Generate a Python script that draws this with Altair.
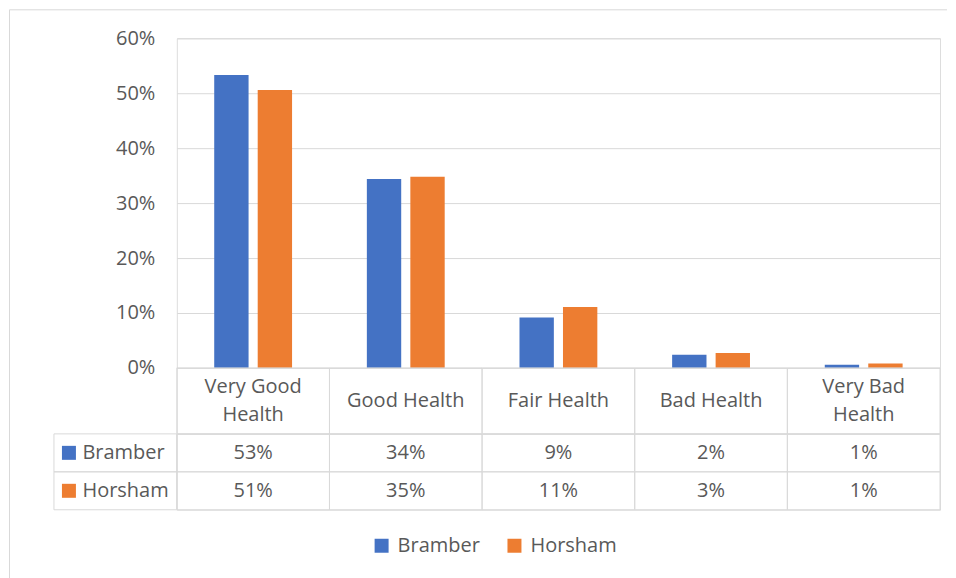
import altair as alt
import pandas as pd

categories = ["Very Good Health", "Good Health", "Fair Health", "Bad Health", "Very Bad Health"]
header_labels = ["Very Good\nHealth", "Good Health", "Fair Health", "Bad Health", "Very Bad\nHealth"]
series = ["Bramber", "Horsham"]
bramber = [0.533, 0.344, 0.092, 0.024, 0.006]
horsham = [0.506, 0.348, 0.111, 0.027, 0.008]
colors = ["#4472C4", "#ED7D31"]
y_ticks = [0, 0.1, 0.2, 0.3, 0.4, 0.5, 0.6]

rows = []
for i, c in enumerate(categories):
    rows.append({"category": c, "series": "Bramber", "value": bramber[i]})
    rows.append({"category": c, "series": "Horsham", "value": horsham[i]})
df = pd.DataFrame(rows)
hdr = pd.DataFrame({"category": categories, "label": header_labels})
one = pd.DataFrame({"a": [0]})

W = 764
FONT = "Open Sans"
TXT = "#595959"
GRID = "#d9d9d9"
FS = 20

color = alt.Color(
    "series:N",
    scale=alt.Scale(domain=series, range=colors),
    legend=alt.Legend(
        title=None, orient="none", direction="horizontal",
        legendX=195, legendY=498,
        symbolType="square", symbolSize=196, symbolStrokeWidth=0,
        labelFontSize=FS, labelColor=TXT, labelFont=FONT,
        labelOffset=6, columnPadding=24,
    ),
)

bars = alt.Chart(df).mark_bar().encode(
    x=alt.X("category:N", sort=categories,
            scale=alt.Scale(paddingInner=0.49, paddingOuter=0.245), axis=None),
    xOffset=alt.XOffset("series:N", sort=series, scale=alt.Scale(paddingInner=0.21)),
    y=alt.Y("value:Q", scale=alt.Scale(domain=[0, 0.6]),
            axis=alt.Axis(values=y_ticks, format=".0%", title=None, domain=False, ticks=False,
                          labelFontSize=FS, labelColor=TXT, labelFont=FONT, labelPadding=22,
                          gridColor=GRID, gridWidth=1)),
    color=color,
)

frame_top = alt.Chart(one).mark_rule(stroke=GRID, strokeWidth=1).encode(
    x=alt.value(-167.5), x2=alt.value(W + 7), y=alt.value(-28.5),
)
frame_left = alt.Chart(one).mark_rule(stroke=GRID, strokeWidth=1).encode(
    x=alt.value(-167.5), y=alt.value(-28.5), y2=alt.value(560),
)

top = alt.layer(frame_top, frame_left, bars).properties(width=W, height=330)

xt = alt.X("category:N", sort=categories, scale=alt.Scale(paddingInner=0, paddingOuter=0), axis=None)

hcells = alt.Chart(hdr).mark_rect(fillOpacity=0, stroke=GRID, strokeWidth=1).encode(x=xt)
htext1 = alt.Chart(hdr).transform_filter("indexof(datum.label, '\\n') < 0").mark_text(
    fontSize=FS, color=TXT, font=FONT, baseline="middle").encode(
    x=xt, y=alt.value(33), text="label:N")
htext2 = alt.Chart(hdr).transform_filter("indexof(datum.label, '\\n') >= 0").mark_text(
    lineBreak="\n", fontSize=FS, lineHeight=28, color=TXT, font=FONT, baseline="middle").encode(
    x=xt, y=alt.value(19), text="label:N")
header = alt.layer(hcells, htext1, htext2).properties(width=W, height=66)

yt = alt.Y("series:N", sort=series, scale=alt.Scale(paddingInner=0, paddingOuter=0),
           axis=alt.Axis(title=None, domain=False, ticks=False, labelAlign="left", labelPadding=95,
                         labelFontSize=FS, labelColor=TXT, labelFont=FONT, grid=False))
vcells = alt.Chart(df).mark_rect(fillOpacity=0, stroke=GRID, strokeWidth=1).encode(x=xt, y=yt)
vtext = alt.Chart(df).mark_text(fontSize=FS, color=TXT, font=FONT).encode(
    x=xt, y=yt, text=alt.Text("value:Q", format=".0%"))
lcells = alt.Chart(pd.DataFrame({"series": series})).mark_rect(
    fillOpacity=0, stroke=GRID, strokeWidth=1).encode(
    x=alt.value(-123), x2=alt.value(0), y=yt)
squares = alt.Chart(pd.DataFrame({"series": series})).mark_square(size=196, opacity=1, strokeWidth=0).encode(
    x=alt.value(-108), y=yt, color=color)
values = alt.layer(lcells, vcells, vtext, squares).properties(width=W, height=76)

chart = alt.vconcat(top, header, values, spacing=0, bounds="flush", padding=0).resolve_scale(
    x="independent", y="independent", color="shared"
).configure_view(stroke=None).configure(font=FONT)

chart.save("out.html", embed_options={"renderer": "svg", "actions": False})
